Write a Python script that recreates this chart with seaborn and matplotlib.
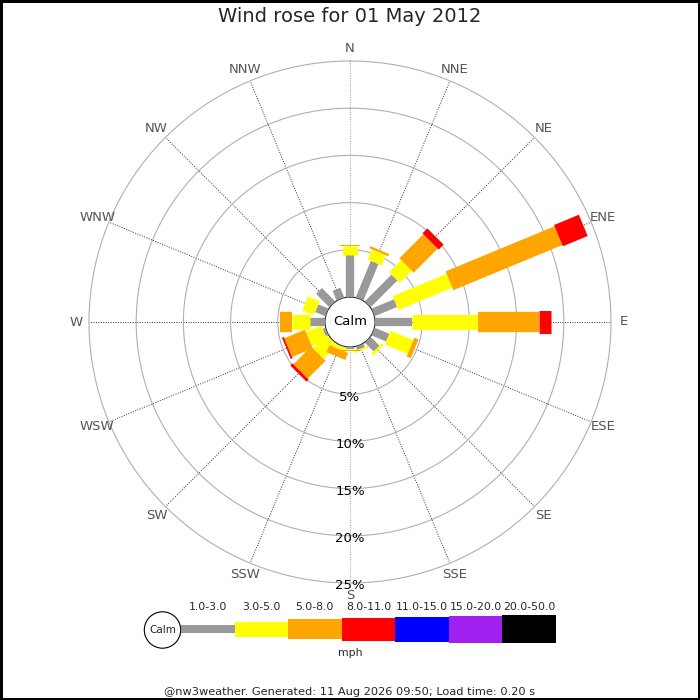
import numpy as np
import pandas as pd
import matplotlib
matplotlib.use("Agg")
import matplotlib.pyplot as plt
import seaborn as sns

# --- data (percent of time per direction / speed band) ---
directions = ["N", "NNE", "NE", "ENE", "E", "ESE", "SE", "SSE",
              "S", "SSW", "SW", "WSW", "W", "WNW", "NW", "NNW"]
speed_bands = ["1.0-3.0", "3.0-5.0", "5.0-8.0", "8.0-11.0",
               "11.0-15.0", "15.0-20.0", "20.0-50.0"]
band_1_3 = [4.44, 4.18, 4.02, 2.58, 3.88, 1.69, 1.33, 0.40,
            0.20, 0.10, 0.10, 0.30, 1.59, 1.16, 2.00, 1.10]
band_3_5 = [0.96, 1.17, 1.80, 6.18, 6.98, 2.60, 0.27, 0.20,
            0.15, 0.35, 2.00, 1.77, 1.87, 1.34, 0.00, 0.00]
band_5_8 = [0.15, 0.25, 3.60, 12.49, 6.53, 0.47, 0.00, 0.00,
            0.05, 0.80, 2.66, 2.37, 1.30, 0.00, 0.00, 0.00]
band_8_11 = [0.00, 0.00, 0.74, 2.85, 1.23, 0.00, 0.00, 0.00,
             0.00, 0.00, 0.32, 0.20, 0.00, 0.00, 0.00, 0.00]
ring_ticks = [5, 10, 15, 20, 25]
title = "Wind rose for 01 May 2012"
footer = "@nw3weather. Generated: 11 Aug 2026 09:50; Load time: 0.20 s"

# --- styles ---
BAND_COLORS = ["#999999", "#ffff00", "#ffa500", "#ff0000",
               "#0000ff", "#a020f0", "#000000"]
BAND_WIDTHS_PX = [8.3, 15, 20.3, 23, 25, 27, 28.3]
R_ORIGIN = -2.65
R_MAX = 25

sns.set_style("white")
plt.rcParams["font.family"] = ["DejaVu Sans"]

fig = plt.figure(figsize=(7, 7), dpi=100, edgecolor="black", linewidth=2.5)

# polar axes: centre at (350, 322) px, outer ring radius 261 px
rad = 261 / 700
ax = fig.add_axes([0.5 - rad, (700 - 322) / 700 - rad, 2 * rad, 2 * rad],
                  projection="polar")
ax.set_theta_zero_location("N")
ax.set_theta_direction(-1)

angles = np.deg2rad(np.arange(16) * 22.5)

# long table of radial segments, one block per speed band
bands = [band_1_3, band_3_5, band_5_8, band_8_11]
cum = np.zeros(len(directions))
for i, vals in enumerate(bands):
    vals = np.asarray(vals)
    rows = []
    for d, th, r0, v in zip(directions, angles, cum, vals):
        if v <= 0:
            continue
        rows.append({"dir": d, "theta": th, "r": r0})
        rows.append({"dir": d, "theta": th, "r": r0 + v})
    cum = cum + vals
    if not rows:
        continue
    seg = pd.DataFrame(rows)
    sns.lineplot(data=seg, x="theta", y="r", units="dir", estimator=None,
                 sort=False, color=BAND_COLORS[i],
                 linewidth=BAND_WIDTHS_PX[i] * 0.72,
                 solid_capstyle="butt", ax=ax, legend=False, zorder=3 + i)

ax.set_ylim(0, R_MAX)
ax.set_rorigin(R_ORIGIN)
ax.set_xlabel("")
ax.set_ylabel("")

# grid: dotted spokes, light solid rings
ax.set_xticks(angles)
ax.set_xticklabels([])
ax.set_yticks(ring_ticks[:-1])
ax.set_yticklabels([])
ax.xaxis.grid(True, color="#333333", linestyle=(0, (1, 1.5)), linewidth=0.7)
ax.yaxis.grid(True, color="#b0b0b0", linestyle="-", linewidth=0.8)
for k, gl in enumerate(ax.get_xgridlines()):
    if k in (0, 8):
        gl.set_color("#999999")
ax.spines["polar"].set_color("#b0b0b0")
ax.spines["polar"].set_linewidth(0.8)

# calm circle edge
full = np.linspace(0, 2 * np.pi, 200)
ax.plot(full, np.zeros_like(full), color="#c8c8c8", lw=0.8, zorder=2)
ax.text(0.5, 0.5, "Calm", transform=ax.transAxes, ha="center", va="center",
        fontsize=9.5, color="black")

for th, d in zip(angles, directions):
    ax.text(th, 26.35, d, ha="center", va="center", fontsize=9.5,
            color="#555555", clip_on=False)
for p in ring_ticks:
    ax.text(np.pi, p + 0.3, f"{p}%", ha="center", va="center", fontsize=9.5,
            color="black", zorder=10, clip_on=False)

fig.text(0.5, 1 - 17 / 700, title, ha="center", va="center", fontsize=14)

# legend strip in pixel coordinates
lx0, lx1, ly0, ly1 = 140, 560, 598, 662
lax = fig.add_axes([lx0 / 700, 1 - ly1 / 700, (lx1 - lx0) / 700, (ly1 - ly0) / 700])
lax.set_xlim(lx0, lx1)
lax.set_ylim(ly1, ly0)
lax.axis("off")
lax.add_patch(plt.Circle((162.5, 630), 18.2, facecolor="white",
                         edgecolor="black", lw=0.8))
lax.text(162.5, 630, "Calm", ha="center", va="center", fontsize=7.5)
step = 53.55
lefts = 181 + step * np.arange(len(speed_bands))
heights = np.array(BAND_WIDTHS_PX)
lax.bar(lefts, heights, width=step, bottom=629.2 - heights / 2, align="edge",
        color=BAND_COLORS, linewidth=0)
for x, lab in zip(lefts, speed_bands):
    lax.text(x + step / 2, 606.5, lab, ha="center", va="center", fontsize=7.8)
lax.text(350, 653.5, "mph", ha="center", va="center", fontsize=7.8)

fig.text(0.5, 1 - 692 / 700, footer, ha="center", va="center", fontsize=8.2)

fig.savefig("out.png", dpi=100)
